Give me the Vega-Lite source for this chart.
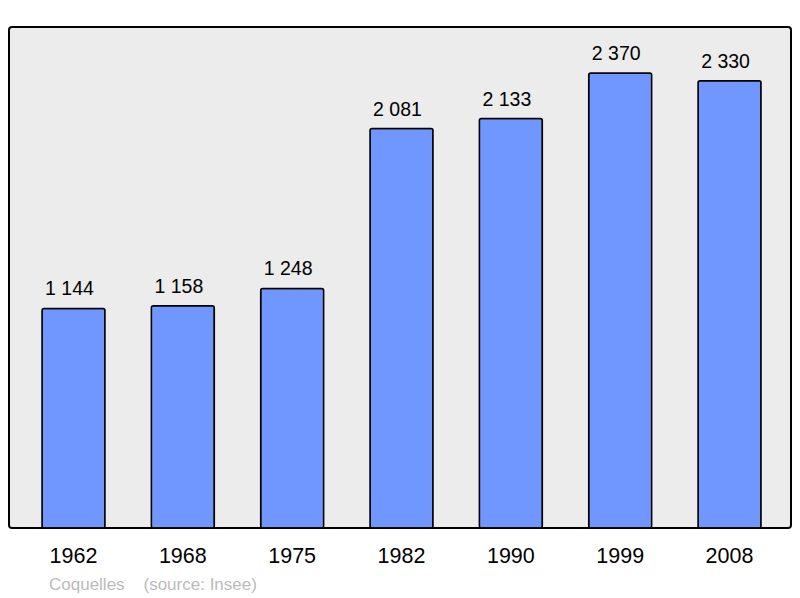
{
  "$schema": "https://vega.github.io/schema/vega-lite/v6.json",
  "width": 782,
  "height": 501,
  "autosize": "none",
  "padding": {"left": 9, "top": 27, "right": 9, "bottom": 70},
  "background": "#ffffff",
  "data": {"values": [
    {"year": "1962", "pop": 1144, "label": "1 144"},
    {"year": "1968", "pop": 1158, "label": "1 158"},
    {"year": "1975", "pop": 1248, "label": "1 248"},
    {"year": "1982", "pop": 2081, "label": "2 081"},
    {"year": "1990", "pop": 2133, "label": "2 133"},
    {"year": "1999", "pop": 2370, "label": "2 370"},
    {"year": "2008", "pop": 2330, "label": "2 330"}
  ]},
  "title": {
    "text": "Coquelles\u00a0\u00a0\u00a0\u00a0(source: Insee)",
    "orient": "bottom",
    "anchor": "start",
    "offset": 10,
    "dx": 40,
    "color": "#bbbbbb",
    "fontSize": 17,
    "fontWeight": "normal",
    "font": "Liberation Sans"
  },
  "encoding": {
    "x": {
      "field": "year", "type": "ordinal",
      "scale": {"paddingInner": 0.424, "paddingOuter": 0.288, "align": 0.524},
      "axis": {"title": null, "ticks": false, "domain": false, "labelAngle": 0, "labelFontSize": 21.5, "labelFont": "Liberation Sans", "labelColor": "#000", "labelPadding": 17}
    },
    "y": {
      "field": "pop", "type": "quantitative",
      "scale": {"domain": [0, 2610], "nice": false},
      "axis": null
    }
  },
  "layer": [
    {"mark": {"type": "bar", "fill": "#7097ff", "stroke": "#000", "strokeWidth": 1.5, "cornerRadius": 2}},
    {"mark": {"type": "text", "baseline": "alphabetic", "dy": -13, "dx": -4, "fontSize": 19.5, "font": "Liberation Sans", "color": "#000"},
     "encoding": {"text": {"field": "label"}}}
  ],
  "config": {
    "view": {"fill": "#ececec", "stroke": "#000", "strokeWidth": 2, "cornerRadius": 3}
  }
}
